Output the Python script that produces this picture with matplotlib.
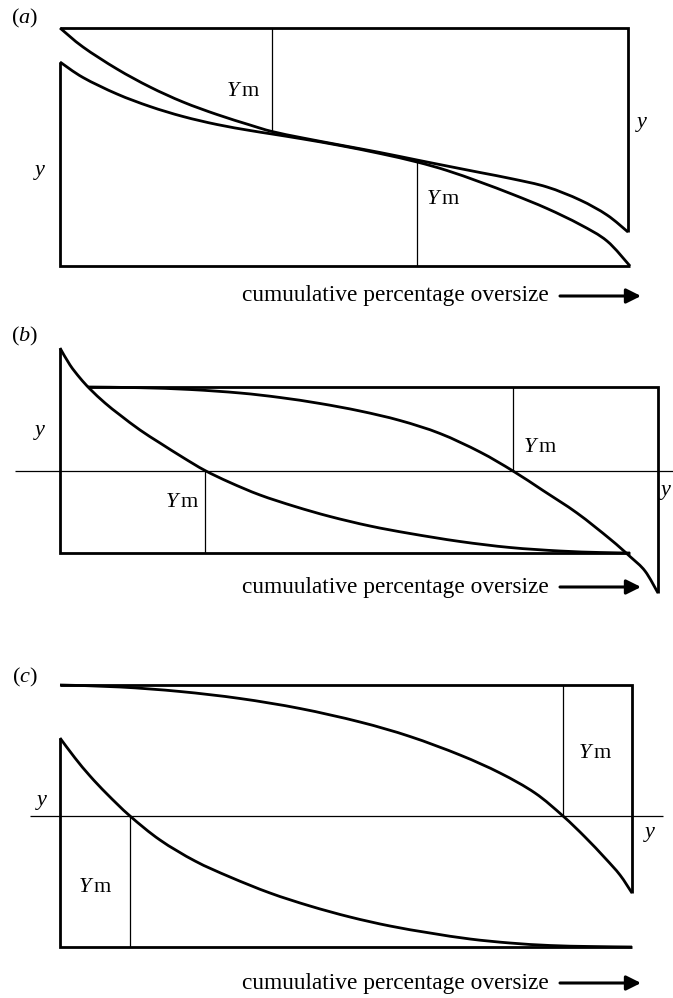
import matplotlib.pyplot as plt
from matplotlib.path import Path
from matplotlib.patches import PathPatch

plt.rcParams['font.family'] = 'Liberation Serif'
plt.rcParams['mathtext.fontset'] = 'custom'
plt.rcParams['mathtext.rm'] = 'Liberation Serif'
plt.rcParams['mathtext.it'] = 'Liberation Serif:italic'

# x: position along the cumulative oversize axis (box width = 570 units)
# y: height above the bottom of the lower box

# --- (a) ---
a_upper_x = [0, 23, 57, 90, 123, 157, 190, 212, 243, 280, 320, 357, 387, 420, 453, 487, 520, 547, 568]
a_upper_y = [238, 219, 197, 179, 164, 151.5, 141, 134.5, 128, 121, 113.5, 106, 100, 93.5, 87, 79, 66, 51, 34]
a_lower_x = [0, 23, 57, 90, 123, 157, 190, 212, 243, 280, 320, 357, 387, 420, 453, 487, 520, 547, 570]
a_lower_y = [204, 188.5, 172, 159.5, 149.5, 141.5, 135.5, 132, 127, 120.5, 112.5, 104, 95.5, 84, 71.5, 57.5, 41.5, 25, 0]
a_top, a_right = 238, 568
a_ym_upper = (212, 134.5)   # x, curve height
a_ym_lower = (357, 104)

# --- (b) ---
b_lower_x = [0, 10, 20, 30, 45, 60, 80, 100, 123, 145, 170, 200, 235, 270, 310, 350, 400, 450, 500, 540, 570]
b_lower_y = [205, 188, 175, 164, 150, 138, 123, 110, 95.5, 82.5, 70.5, 58, 46.5, 36.5, 27, 19.5, 11.5, 5.5, 2, 0.5, 0]
b_upper_x = [28, 80, 130, 180, 220, 260, 300, 340, 380, 420, 453, 483, 517, 550, 570, 585, 598]
b_upper_y = [166, 165.3, 163.5, 160, 155.5, 149.5, 142, 132.5, 119.5, 101, 82, 62.5, 40, 14, -3.5, -18, -40]
b_top, b_right = 166, 598
b_level = 82
b_ym_lower = 145
b_ym_upper = 453

# --- (c) ---
c_upper_x = [0, 60, 120, 180, 240, 300, 350, 400, 440, 475, 503, 525, 545, 560, 572]
c_upper_y = [262, 260, 255.5, 248.5, 238.5, 225, 210.5, 192, 174, 154, 131, 110, 89, 72, 54]
c_lower_x = [0, 15, 30, 47, 70, 100, 135, 170, 210, 250, 290, 330, 370, 410, 450, 490, 530, 572]
c_lower_y = [209, 189, 171, 153, 131, 107, 86, 70, 54, 41, 30, 21, 14, 8, 4, 1.5, 0.5, 0]
c_top, c_right = 262, 572
c_level = 131
c_ym_lower = 70
c_ym_upper = 503

xlabel = 'cumuulative percentage oversize'

W, H = 673, 998
THICK, THIN = 2.0, 0.9

fig = plt.figure(figsize=(W / 100, H / 100), dpi=100)


def panel(top_px, bot_px, base_px):
    ax = fig.add_axes([0, 1 - bot_px / H, 1, (bot_px - top_px) / H])
    ax.set_xlim(-60, W - 60)
    ax.set_ylim(base_px - bot_px, base_px - top_px)
    ax.axis('off')
    return ax


def curve(ax, xs, ys):
    # smooth cubic segments passing through every point (Catmull-Rom handles)
    pts = list(zip(xs, ys))
    verts = [pts[0]]
    codes = [Path.MOVETO]
    n = len(pts)
    for i in range(n - 1):
        p0 = pts[max(i - 1, 0)]
        p1 = pts[i]
        p2 = pts[i + 1]
        p3 = pts[min(i + 2, n - 1)]
        c1 = (p1[0] + (p2[0] - p0[0]) / 6, p1[1] + (p2[1] - p0[1]) / 6)
        c2 = (p2[0] - (p3[0] - p1[0]) / 6, p2[1] - (p3[1] - p1[1]) / 6)
        verts += [c1, c2, p2]
        codes += [Path.CURVE4] * 3
    ax.add_patch(PathPatch(Path(verts, codes), fill=False, lw=THICK,
                           edgecolor='k', capstyle='butt'))


def xlabel_arrow(ax, y):
    ax.text(335, y, xlabel, ha='center', va='center', fontsize=16.8)
    ax.annotate('', xy=(581, y), xytext=(500, y),
                arrowprops=dict(arrowstyle='-|>', lw=2.2, color='k',
                                mutation_scale=22, shrinkA=0, shrinkB=0))


k = dict(color='k', solid_capstyle='butt', solid_joinstyle='miter')
ym = r'$Y\,\mathrm{m}$'
lab = dict(ha='center', va='center', fontsize=16)

# (a)
ax = panel(0, 310, 266)
curve(ax, a_upper_x, a_upper_y)
curve(ax, a_lower_x, a_lower_y)
ax.plot([0, a_right, a_right], [a_top, a_top, a_upper_y[-1]], lw=THICK, **k)
ax.plot([0, 0, a_lower_x[-1]], [a_lower_y[0], 0, 0], lw=THICK, **k)
ax.plot([a_ym_upper[0]] * 2, [a_top, a_ym_upper[1]], lw=THIN, **k)
ax.plot([a_ym_lower[0]] * 2, [0, a_ym_lower[1]], lw=THIN, **k)
ax.text(-35, 248, r'$(\mathit{a})$', **lab)
ax.text(183, 175, ym, **lab)
ax.text(383, 66, ym, **lab)
ax.text(-20, 93, r'$y$', **lab)
ax.text(582, 141, r'$y$', **lab)
xlabel_arrow(ax, -30)

# (b)
ax = panel(310, 620, 553)
curve(ax, b_lower_x, b_lower_y)
curve(ax, b_upper_x, b_upper_y)
ax.plot([b_upper_x[0], b_right, b_right], [b_top, b_top, b_upper_y[-1]], lw=THICK, **k)
ax.plot([0, 0, b_lower_x[-1]], [b_lower_y[0], 0, 0], lw=THICK, **k)
ax.plot([-45, W - 60], [b_level, b_level], lw=THIN, **k)
ax.plot([b_ym_lower] * 2, [0, b_level], lw=THIN, **k)
ax.plot([b_ym_upper] * 2, [b_level, b_top], lw=THIN, **k)
ax.text(-35, 217, r'$(\mathit{b})$', **lab)
ax.text(-20, 121, r'$y$', **lab)
ax.text(122, 50, ym, **lab)
ax.text(480, 106, ym, **lab)
ax.text(606, 60, r'$y$', **lab)
xlabel_arrow(ax, -34)

# (c)
ax = panel(620, 998, 947)
curve(ax, c_upper_x, c_upper_y)
curve(ax, c_lower_x, c_lower_y)
ax.plot([0, c_right, c_right], [c_top, c_top, c_upper_y[-1]], lw=THICK, **k)
ax.plot([0, 0, c_lower_x[-1]], [c_lower_y[0], 0, 0], lw=THICK, **k)
ax.plot([-30, 603], [c_level, c_level], lw=THIN, **k)
ax.plot([c_ym_lower] * 2, [0, c_level], lw=THIN, **k)
ax.plot([c_ym_upper] * 2, [c_level, c_top], lw=THIN, **k)
ax.text(-35, 270, r'$(\mathit{c})$', **lab)
ax.text(-18, 145, r'$y$', **lab)
ax.text(35, 60, ym, **lab)
ax.text(535, 194, ym, **lab)
ax.text(590, 112, r'$y$', **lab)
xlabel_arrow(ax, -36)

fig.savefig('out.png', dpi=100)
